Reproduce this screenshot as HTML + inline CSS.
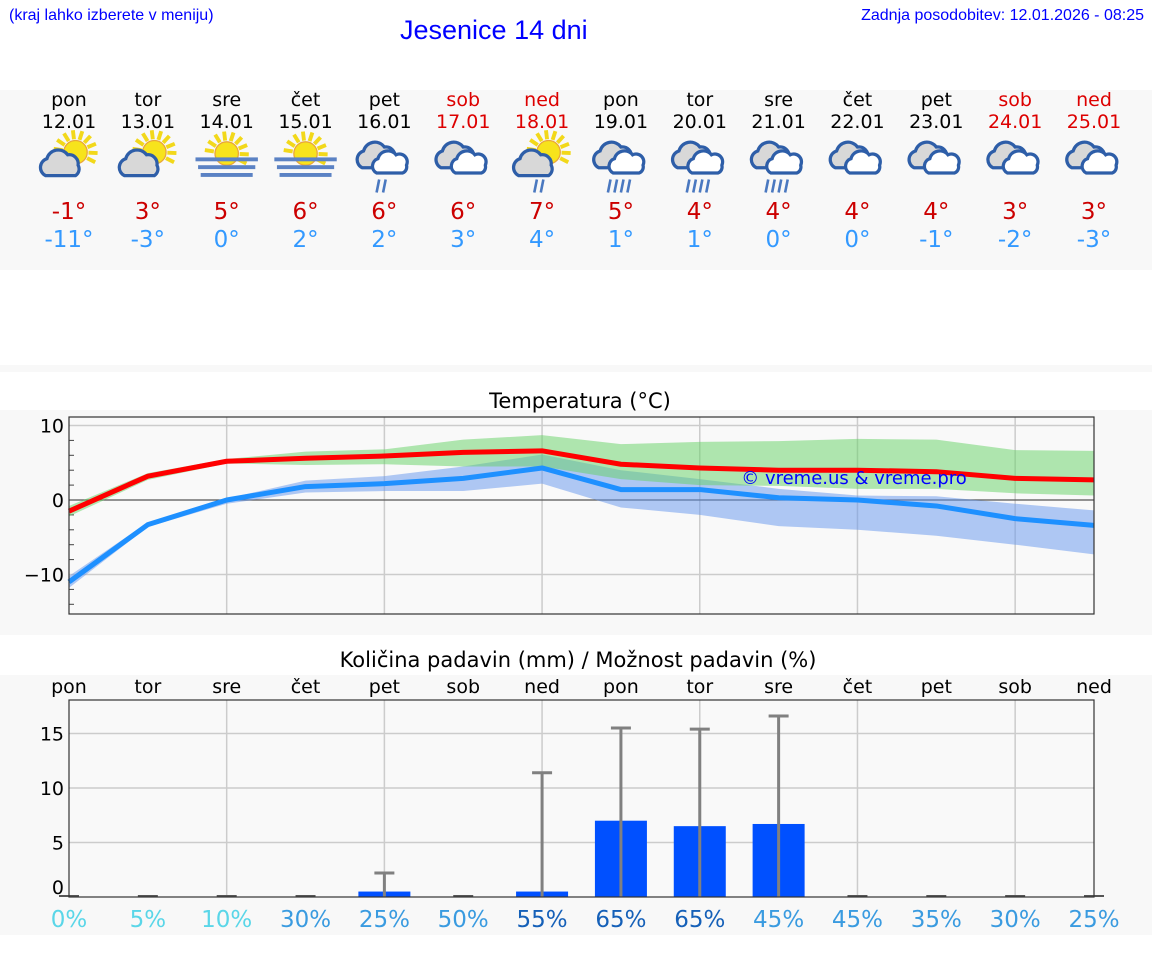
<!DOCTYPE html>
<html><head><meta charset="utf-8">
<style>
body{margin:0;width:1152px;height:975px;background:#fff;font-family:"DejaVu Sans","Liberation Sans",sans-serif;position:relative;overflow:hidden}
.a{position:absolute}
.hdr{font-family:"Liberation Sans",sans-serif;color:#00f}
.band{position:absolute;left:0;width:1152px;background:#f8f8f8}
.day{position:absolute;width:80px;text-align:center;font-size:19px;line-height:22px}
.t{position:absolute;width:80px;text-align:center;font-size:23px;line-height:28px}
svg text{font-family:"DejaVu Sans","Liberation Sans",sans-serif}
</style></head><body>
<div class="a hdr" style="left:9px;top:7px;font-size:16px">(kraj lahko izberete v meniju)</div>
<div class="a hdr" style="left:400px;top:15px;font-size:27px">Jesenice 14 dni</div>
<div class="a hdr" style="right:8px;top:7px;font-size:16px">Zadnja posodobitev: 12.01.2026 - 08:25</div>
<div class="band" style="top:90px;height:180px"></div>
<div class="band" style="top:365px;height:7px"></div>
<div class="band" style="top:410px;height:225px"></div>
<div class="band" style="top:675px;height:260px"></div>
<div id="days"></div>
<svg class="a" style="left:0;top:0" width="1152" height="975" id="sv"></svg>
<script>
const dayNames=["pon","tor","sre","čet","pet","sob","ned","pon","tor","sre","čet","pet","sob","ned"];
const dates=["12.01","13.01","14.01","15.01","16.01","17.01","18.01","19.01","20.01","21.01","22.01","23.01","24.01","25.01"];
const icons=["sc","sc","fog","fog","cr2","c","scr","cr4","cr4","cr4","c","c","c","c"];
const tMaxLbl=[-1,3,5,6,6,6,7,5,4,4,4,4,3,3];
const tMinLbl=[-11,-3,0,2,2,3,4,1,1,0,0,-1,-2,-3];
const tMax=[-1.5,3.2,5.2,5.6,5.9,6.4,6.6,4.8,4.3,4.0,4.0,3.8,2.9,2.7];
const tMin=[-11,-3.3,0,1.8,2.2,2.9,4.3,1.4,1.4,0.3,0,-0.8,-2.5,-3.4];
const maxHi=[-0.8,3.6,5.5,6.5,6.8,8.1,8.7,7.5,7.8,7.9,8.2,8.1,6.7,6.6];
const maxLo=[-2.2,2.7,4.9,4.7,4.8,4.5,4.5,2.8,2.0,1.9,1.5,1.5,0.9,0.6];
const minHi=[-10.2,-3.0,0.2,2.6,3.2,4.5,6.1,4.0,2.8,1.5,0.6,0.5,-0.5,-1.4];
const minLo=[-11.8,-3.6,-0.5,1.0,1.2,1.2,2.2,-1.0,-2.0,-3.5,-4.0,-4.8,-6.0,-7.3];
const rain=[0,0,0,0,0.5,0,0.5,7.0,6.5,6.7,0,0,0,0];
const rainMax=[0,0,0,0,2.2,0,11.4,15.5,15.4,16.6,0,0,0,0];
const prob=[0,5,10,30,25,50,55,65,65,45,45,35,30,25];
const tTicks=[10,0,-10];
const pTicks=[15,10,5,0];

const X0=69,X1=1094;
const x=i=>X0+i*(X1-X0)/13;
const yT=v=>500-v*7.45;
const yP=v=>897-v*10.9;
const NS="http://www.w3.org/2000/svg";
const sv=document.getElementById('sv');
function el(tag,at,parent){const e=document.createElementNS(NS,tag);for(const k in at)e.setAttribute(k,at[k]);(parent||sv).appendChild(e);return e;}
const isWe=i=>dayNames[i]==="sob"||dayNames[i]==="ned";
const daysDiv=document.getElementById('days');
for(let i=0;i<14;i++){
  const d=document.createElement('div');d.className='day';
  d.style.left=(x(i)-40)+'px';d.style.top='89px';d.style.color=isWe(i)?'#d00':'#000';
  d.innerHTML=dayNames[i]+'<br>'+dates[i];
  
  
  daysDiv.appendChild(d);
  const a=document.createElement('div');a.className='t';a.style.left=(x(i)-40)+'px';a.style.top='198px';a.style.color='#c00';a.textContent=tMaxLbl[i]+'°';
  
  
  daysDiv.appendChild(a);
  const b=document.createElement('div');b.className='t';b.style.left=(x(i)-40)+'px';b.style.top='226px';b.style.color='#39f';b.textContent=tMinLbl[i]+'°';
  
  
  daysDiv.appendChild(b);
}
// icons (drawn in local coords, scaled)
function sun(g,cx,cy){for(let k=0;k<9;k++){const an=-Math.PI*0.95+k*Math.PI*1.1/8;el('line',{x1:cx+Math.cos(an)*10,y1:cy+Math.sin(an)*10,x2:cx+Math.cos(an)*17,y2:cy+Math.sin(an)*17,stroke:'#f2d81a','stroke-width':3},g);}
 el('circle',{cx:cx,cy:cy,r:9,fill:'#f7e31c',stroke:'#e9a63a','stroke-width':1},g);}
function cloud(g,cx,cy){el('path',{d:`M${cx-12},${cy+8} a7 7 0 0 1 1,-13 a9 9 0 0 1 16,-3 a7 7 0 0 1 8,8 a6 6 0 0 1 -2,8 z`,fill:'#d8d8d8',stroke:'#2e5ea8','stroke-width':2.5},g);}
for(let i=0;i<14;i++){
  const cx=x(i),t=icons[i];
  const g=el('g',{transform:`translate(${cx},160) scale(1.3) translate(${-cx},-160)`});
  
  
  if(t==='sc'||t==='scr'){sun(g,cx+5,154);cloud(g,cx-6,164);}
  if(t==='fog'){sun(g,cx,155);[158,164,170].forEach((yy,k)=>el('rect',{x:cx-24+k*2,y:yy,width:48-k*4,height:3,fill:'#5b82c4'},g));}
  if(t==='c'||t==='cr2'||t==='cr4'){cloud(g,cx-5,158);el('path',{d:`M${cx-6},${170} a6 6 0 0 1 1,-11 a8 8 0 0 1 14,-3 a6 6 0 0 1 8,8 a5 5 0 0 1 -3,6 z`,fill:'#fff',stroke:'#2e5ea8','stroke-width':2.5},g);}
  const nd=t==='cr4'?4:(t==='cr2'||t==='scr')?2:0;
  for(let k=0;k<nd;k++){const dx=cx-(nd===4?9:5)+k*5;el('line',{x1:dx+1,y1:175,x2:dx-1,y2:185,stroke:'#4a78c0','stroke-width':2},g);}
}
// temperature chart
const tt=el('text',{x:580,y:408,'text-anchor':'middle','font-size':21,fill:'#000'});tt.textContent='Temperatura (°C)';


el('rect',{x:X0,y:417,width:X1-X0,height:197,fill:'#f9f9f9'});
for(let i=2;i<14;i+=2){el('line',{x1:x(i),x2:x(i),y1:417,y2:614,stroke:'#ccc','stroke-width':1.5});}
tTicks.forEach(v=>{el('line',{x1:X0,x2:X1,y1:yT(v),y2:yT(v),stroke:v===0?'#555':'#ccc','stroke-width':v===0?1.2:1.5});
 const lb=el('text',{x:X0-5,y:yT(v)+7,'text-anchor':'end','font-size':19});lb.textContent=v<0?'−'+(-v):v;
 
 });
for(let v=-14;v<=10;v+=2){if(v%10)el('line',{x1:X0,x2:X0+5,y1:yT(v),y2:yT(v),stroke:'#444'});}
function band(hi,lo,col,name){let d='';hi.forEach((v,i)=>d+=(i?'L':'M')+x(i)+','+yT(v));for(let i=13;i>=0;i--)d+='L'+x(i)+','+yT(lo[i]);
 const p=el('path',{d:d+'Z',fill:col});}
band(minHi,minLo,'rgba(100,149,237,0.5)','min-temp-range');
band(maxHi,maxLo,'rgba(100,210,100,0.5)','max-temp-range');
function line(arr,col,name){const p=el('polyline',{points:arr.map((v,i)=>x(i)+','+yT(v)).join(' '),fill:'none',stroke:col,'stroke-width':5,'stroke-linejoin':'round'});
 }
line(tMin,'#1e90ff','min-temp-line');
line(tMax,'#ff0000','max-temp-line');
const cp=el('text',{x:854,y:484,'text-anchor':'middle','font-size':18,fill:'#00f','font-family':'Liberation Sans'});cp.textContent='© vreme.us & vreme.pro';


el('rect',{x:X0,y:417,width:X1-X0,height:197,fill:'none',stroke:'#333','stroke-width':1.2});
// precip chart
const pt=el('text',{x:578,y:667,'text-anchor':'middle','font-size':21});pt.textContent='Količina padavin (mm) / Možnost padavin (%)';


el('rect',{x:X0,y:700,width:X1-X0,height:197,fill:'#f9f9f9'});
for(let i=2;i<14;i+=2)el('line',{x1:x(i),x2:x(i),y1:700,y2:897,stroke:'#ccc','stroke-width':1.5});
pTicks.forEach(v=>{if(v)el('line',{x1:X0,x2:X1,y1:yP(v),y2:yP(v),stroke:'#ccc','stroke-width':1.5});
 const lb=el('text',{x:X0-5,y:(v?yP(v):887)+7,'text-anchor':'end','font-size':19});lb.textContent=v;
 
 });
for(let i=0;i<14;i++){
 const dl=el('text',{x:x(i),y:693,'text-anchor':'middle','font-size':19});dl.textContent=dayNames[i];
 
 
 if(rain[i]>0){const r=el('rect',{x:x(i)-26,y:yP(rain[i]),width:52,height:897-yP(rain[i]),fill:'#0050ff'});
  }
 else el('line',{x1:x(i)-10,x2:x(i)+10,y1:896,y2:896,stroke:'#555','stroke-width':2});
 if(rainMax[i]>0){el('line',{x1:x(i),x2:x(i),y1:897,y2:yP(rainMax[i]),stroke:'#808080','stroke-width':3});
  const c=el('line',{x1:x(i)-10,x2:x(i)+10,y1:yP(rainMax[i]),y2:yP(rainMax[i]),stroke:'#808080','stroke-width':3});
  }
 const col=i<3?'#5ad6e8':(i>=6&&i<=8?'#1560b8':'#3a9be0');
 const pl=el('text',{x:x(i),y:927,'text-anchor':'middle','font-size':23,fill:col});pl.textContent=prob[i]+'%';
 
 
}
el('rect',{x:X0,y:700,width:X1-X0,height:197,fill:'none',stroke:'#333','stroke-width':1.2});
</script>
</body></html>
